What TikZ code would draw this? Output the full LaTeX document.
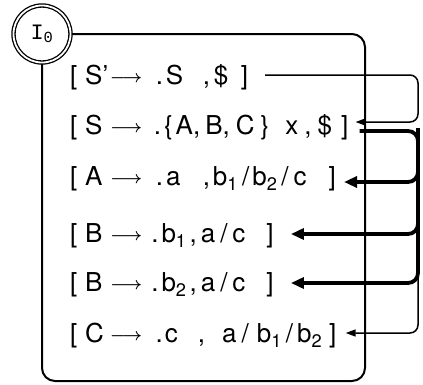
\documentclass[tikz,border=0pt]{standalone}
\usepackage{fontspec}
\setmainfont{TeX Gyre Heros}
\newfontfamily\statefont{Liberation Mono}
\usetikzlibrary{arrows.meta,calc}
\tikzset{
  item/.style={
    anchor=west,
    inner sep=0pt,
    font=\fontsize{26}{28}\selectfont,
    text height=19pt,
    text depth=5.5pt
  },
  state/.style={
    shape=circle,
    draw,
    double,
    line width=1.3pt,
    double distance=1.8pt,
    fill=white,
    minimum size=57pt,
    inner sep=0pt,
    font=\fontsize{22}{24}\selectfont
  },
  thinlink/.style={
    line width=1.5pt,
    rounded corners=8pt,
    -{Triangle[length=10pt,width=7pt]}
  },
  thicklink/.style={
    line width=3.8pt,
    rounded corners=10pt,
    -{Triangle[length=13pt,width=11pt]}
  },
}
\newcommand\gap[1]{\hspace{#1pt}}
\newcommand\prodarrow{\raisebox{2.5pt}{\fontsize{18}{20}\selectfont\boldmath$\longrightarrow$}}
\begin{document}
\begin{tikzpicture}[x=1pt,y=-1pt]
  \useasboundingbox (0,0) rectangle (423,384);
  \draw[line width=2pt,rounded corners=13pt] (42,34) -- (365,34) -- (365,381) -- (42,381) -- (42,34);
  \node[state] (i0) at (42,34) {\statefont I\textsubscript{0}};
  % items
  \node[item] (r1) at (70,78)  {[\gap{7.8}S'\gap{1.9}\prodarrow\gap{13.5}.\gap{2.8}S\gap{19.7},\gap{3.8}\$\gap{12.5}]};
  \node[item] (r2) at (70,128) {[\gap{7.8}S\gap{7.7}\prodarrow\gap{11.5}.\gap{3}\{\gap{3}A,\gap{5}B,\gap{6}C\gap{6}\}\gap{16}x\gap{6},\gap{6}\$\gap{9}]};
  \node[item] (r3) at (70,179) {[\gap{7.8}A\gap{7.7}\prodarrow\gap{13.5}.\gap{3}a\gap{22.3},\gap{3}b\textsubscript{1}\gap{4}/\gap{3}b\textsubscript{2}\gap{4}/\gap{5}c\gap{22}]};
  \node[item] (r4) at (70,236) {[\gap{7.8}B\gap{7.7}\prodarrow\gap{9}.\gap{3}b\textsubscript{1}\gap{3},\gap{4}a\gap{5}/\gap{5}c\gap{21}]};
  \node[item] (r5) at (70,285) {[\gap{7.8}B\gap{7.7}\prodarrow\gap{9}.\gap{3}b\textsubscript{2}\gap{3},\gap{4}a\gap{5}/\gap{5}c\gap{21}]};
  \node[item] (r6) at (70,336) {[\gap{7.8}C\gap{6.2}\prodarrow\gap{13.5}.\gap{2}c\gap{20},\gap{17}a\gap{5}/\gap{8}b\textsubscript{1}\gap{4}/\gap{4}b\textsubscript{2}\gap{7}]};
  % closure links
  \coordinate (rt) at (418,0);
  \draw[thinlink] ($(r1.east)+(17,-3)$) -- (rt |- {$(r1.east)+(0,-3)$}) -- (rt |- {$(r2.east)+(0,-6)$}) -- ($(r2.east)+(7,-6)$);
  \draw[thicklink] ($(r2.east)+(11,3)$) -- (rt |- {$(r2.east)+(0,3)$}) -- (rt |- {$(r5.east)+(0,-2)$}) -- ($(r5.east)+(17,-2)$);
  \draw[thicklink] (rt |- r2.east) -- (rt |- {$(r3.east)+(0,3)$}) -- ($(r3.east)+(8,3)$);
  \draw[thicklink] (rt |- r2.east) -- (rt |- {$(r4.east)+(0,-2)$}) -- ($(r4.east)+(17,-2)$);
  \draw[thinlink] (rt |- r4.east) -- (rt |- {$(r6.east)+(0,-3)$}) -- ($(r6.east)+(9,-3)$);
\end{tikzpicture}
\end{document}
